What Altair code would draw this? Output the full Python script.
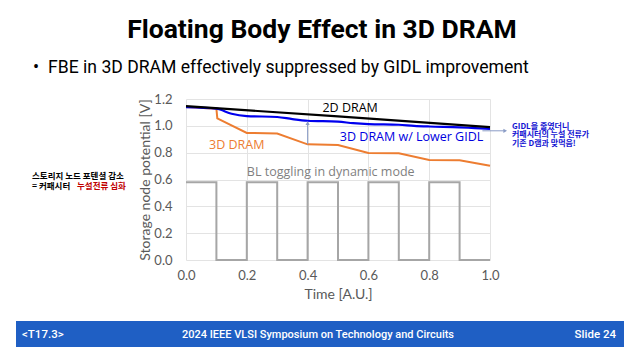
import altair as alt
import pandas as pd

# ---- data ----
time_2d = [0.0, 0.5, 1.0]
v_2d = [1.147, 1.07, 0.99]

time_gidl = [0.0, 0.1, 0.15, 0.2, 0.3, 0.35, 0.4, 0.5, 0.55, 0.6, 0.7, 0.75, 0.8, 0.9, 0.95, 1.0]
v_gidl = [1.14, 1.128, 1.09, 1.073, 1.066, 1.05, 1.038, 1.031, 1.02, 1.013, 1.008, 1.0, 0.995, 0.989, 0.983, 0.978]

time_3d = [0.0, 0.1, 0.103, 0.2, 0.3, 0.4, 0.5, 0.6, 0.7, 0.8, 0.9, 1.0]
v_3d = [1.14, 1.128, 1.055, 0.947, 0.943, 0.862, 0.857, 0.797, 0.795, 0.745, 0.743, 0.702]

time_bl = [0.0, 0.1, 0.2, 0.3, 0.4, 0.5, 0.6, 0.7, 0.8, 0.9, 1.0]
v_bl = [0.58, 0.0, 0.58, 0.0, 0.58, 0.0, 0.58, 0.0, 0.58, 0.0, 0.0]

label_text = ["2D DRAM", "3D DRAM w/ Lower GIDL", "3D DRAM", "BL toggling in dynamic mode"]
label_x = [0.54, 0.742, 0.167, 0.476]
label_y = [1.133, 0.919, 0.857, 0.653]
label_color = ["#000000", "#0000e0", "#ed7d31", "#7f7f7f"]

arrow_up_x = [0.4]
arrow_up_y0 = [0.862]
arrow_up_y1 = [1.02]
arrow_right_x0 = [0.975]
arrow_right_x1 = [1.05]
arrow_right_y = [0.963]

x_ticks = [0.0, 0.2, 0.4, 0.6, 0.8, 1.0]
y_ticks = [0.0, 0.2, 0.4, 0.6, 0.8, 1.0, 1.2]

title_text = "Floating Body Effect in 3D DRAM"
bullet_text = "FBE in 3D DRAM effectively suppressed by GIDL improvement"
left_note_1 = "스토리지 노드 포텐셜 감소"
left_note_2a = "= 커패시터"
left_note_2b = "누설전류 심화"
right_note = ["GIDL을 줄였더니", "커패시터의 누설 전류가", "기존 D램과 맞먹음!"]
footer_left = "<T17.3>"
footer_center = "2024 IEEE VLSI Symposium on Technology and Circuits"
footer_right = "Slide 24"

SLIDE_FONT = "Roboto"
CHART_FONT = "Open Sans"
AXIS_FONT = "Lato"

W, H = 304, 161

xs = alt.Scale(domain=[0, 1.0])
ys = alt.Scale(domain=[0, 1.2])

axis_x = alt.Axis(values=x_ticks, tickCount=6, format=".1f", title="Time [A.U.]", grid=True,
                  gridColor="#e3e3e3", domain=False, ticks=False, labelPadding=9,
                  titlePadding=5, labelFontSize=13, titleFontSize=14,
                  labelColor="#595959", titleColor="#595959", labelFont=AXIS_FONT,
                  titleFont=AXIS_FONT, titleFontWeight="normal",
                  labelFlush=False, labelOverlap=False)
axis_y = alt.Axis(values=y_ticks, tickCount=7, format=".1f", title="Storage node potential [V]",
                  grid=True, gridColor="#e3e3e3", domain=False, ticks=False,
                  labelPadding=14, titlePadding=1, labelFontSize=13, titleFontSize=14,
                  labelColor="#595959", titleColor="#595959", labelFont=AXIS_FONT,
                  titleFont=AXIS_FONT, titleFontWeight="normal",
                  labelFlush=False, labelOverlap=False)

def X(field):
    return alt.X(field, scale=xs, axis=axis_x)

def Y(field):
    return alt.Y(field, scale=ys, axis=axis_y)

def series(t, v):
    return pd.DataFrame({"t": t, "v": v, "i": list(range(len(t)))})

def line(t, v, **kw):
    return alt.Chart(series(t, v)).mark_line(**kw).encode(
        x=X("t:Q"), y=Y("v:Q"), order="i:Q")

bl = line(time_bl, v_bl, color="#a6a6a6", strokeWidth=2, interpolate="step-after")
d3 = line(time_3d, v_3d, color="#ed7d31", strokeWidth=2)
gidl = line(time_gidl, v_gidl, color="#0000ee", strokeWidth=2.2, interpolate="monotone")
d2 = line(time_2d, v_2d, color="#000000", strokeWidth=2.2)

arrow_col = "#8a9cc6"
up_df = pd.DataFrame({"t": arrow_up_x, "v": arrow_up_y0, "v2": arrow_up_y1})
up_rule = alt.Chart(up_df).mark_rule(color=arrow_col, strokeWidth=1).encode(
    x=X("t:Q"), y=Y("v:Q"), y2="v2:Q")
up_head = alt.Chart(up_df).mark_point(shape="triangle-up", filled=True, size=18,
                                      color=arrow_col, opacity=1).encode(
    x=X("t:Q"), y=Y("v2:Q"))

rt_df = pd.DataFrame({"t": arrow_right_x0, "t2": arrow_right_x1, "v": arrow_right_y})
rt_rule = alt.Chart(rt_df).mark_rule(color=arrow_col, strokeWidth=1).encode(
    x=X("t:Q"), x2="t2:Q", y=Y("v:Q"))
rt_head = alt.Chart(rt_df).mark_point(shape="triangle-right", filled=True, size=18,
                                      color=arrow_col, opacity=1).encode(
    x=X("t2:Q"), y=Y("v:Q"))

lab_df = pd.DataFrame({"t": label_x, "v": label_y, "txt": label_text, "c": label_color})
labels = alt.Chart(lab_df).mark_text(font=CHART_FONT, fontSize=12.5).encode(
    x=X("t:Q"), y=Y("v:Q"), text="txt:N",
    color=alt.Color("c:N", scale=None))

def txt(text, x, y, **kw):
    return alt.Chart(pd.DataFrame({"s": [text]})).mark_text(**kw).encode(
        text="s:N", x=alt.value(x), y=alt.value(y))

title = txt(title_text, 136, -69, font=SLIDE_FONT, fontSize=26.5, fontWeight="bold",
            color="#000000", align="center", baseline="middle")
bullet_dot = txt("•", -150, -31, font=SLIDE_FONT, fontSize=18, color="#000000",
                 align="center", baseline="middle")
bullet = txt(bullet_text, -138, -31, font=SLIDE_FONT, fontSize=17.6, color="#000000",
             align="left", baseline="middle")

note_font = "Noto Sans CJK KR"
left_black = txt(left_note_1 + "\n" + left_note_2a, -154, 77, font=note_font,
                 fontSize=8.5, fontWeight="bold", color="#000000", align="left",
                 baseline="middle", lineBreak="\n", lineHeight=9.5)
ln2b = txt(left_note_2b, -109, 86.5, font=note_font, fontSize=8.5, fontWeight="bold",
           color="#c00000", align="left", baseline="middle")
right_txt = txt("\n".join(right_note), 326, 27.5, font=note_font, fontSize=8,
                fontWeight="bold", color="#1414d2", align="left", baseline="middle",
                lineBreak="\n", lineHeight=8.5)

footer_band = alt.Chart(pd.DataFrame({"a": [0]})).mark_rect(color="#1f5fc4").encode(
    x=alt.value(-170), x2=alt.value(438), y=alt.value(222), y2=alt.value(248))
fl = txt(footer_left, -164, 236, font=SLIDE_FONT, fontSize=11.5, fontWeight=500,
         color="#ffffff", align="left", baseline="middle")
fc = txt(footer_center, 132, 236, font=SLIDE_FONT, fontSize=11, fontWeight=500,
         color="#ffffff", align="center", baseline="middle")
fr = txt(footer_right, 430, 236, font=SLIDE_FONT, fontSize=11.5, fontWeight=500,
         color="#ffffff", align="right", baseline="middle")

chart = alt.layer(
    bl, d3, gidl, d2, up_rule, up_head, rt_rule, rt_head, labels,
    title, bullet_dot, bullet, left_black, ln2b, right_txt, footer_band, fl, fc, fr
).properties(
    width=W, height=H,
    autosize=alt.AutoSizeParams(type="none"),
    padding={"left": 178, "top": 91, "right": 142, "bottom": 92},
    background="#ffffff",
).configure_view(stroke=None)

chart.save("out.html", embed_options={"renderer": "svg", "actions": False})
